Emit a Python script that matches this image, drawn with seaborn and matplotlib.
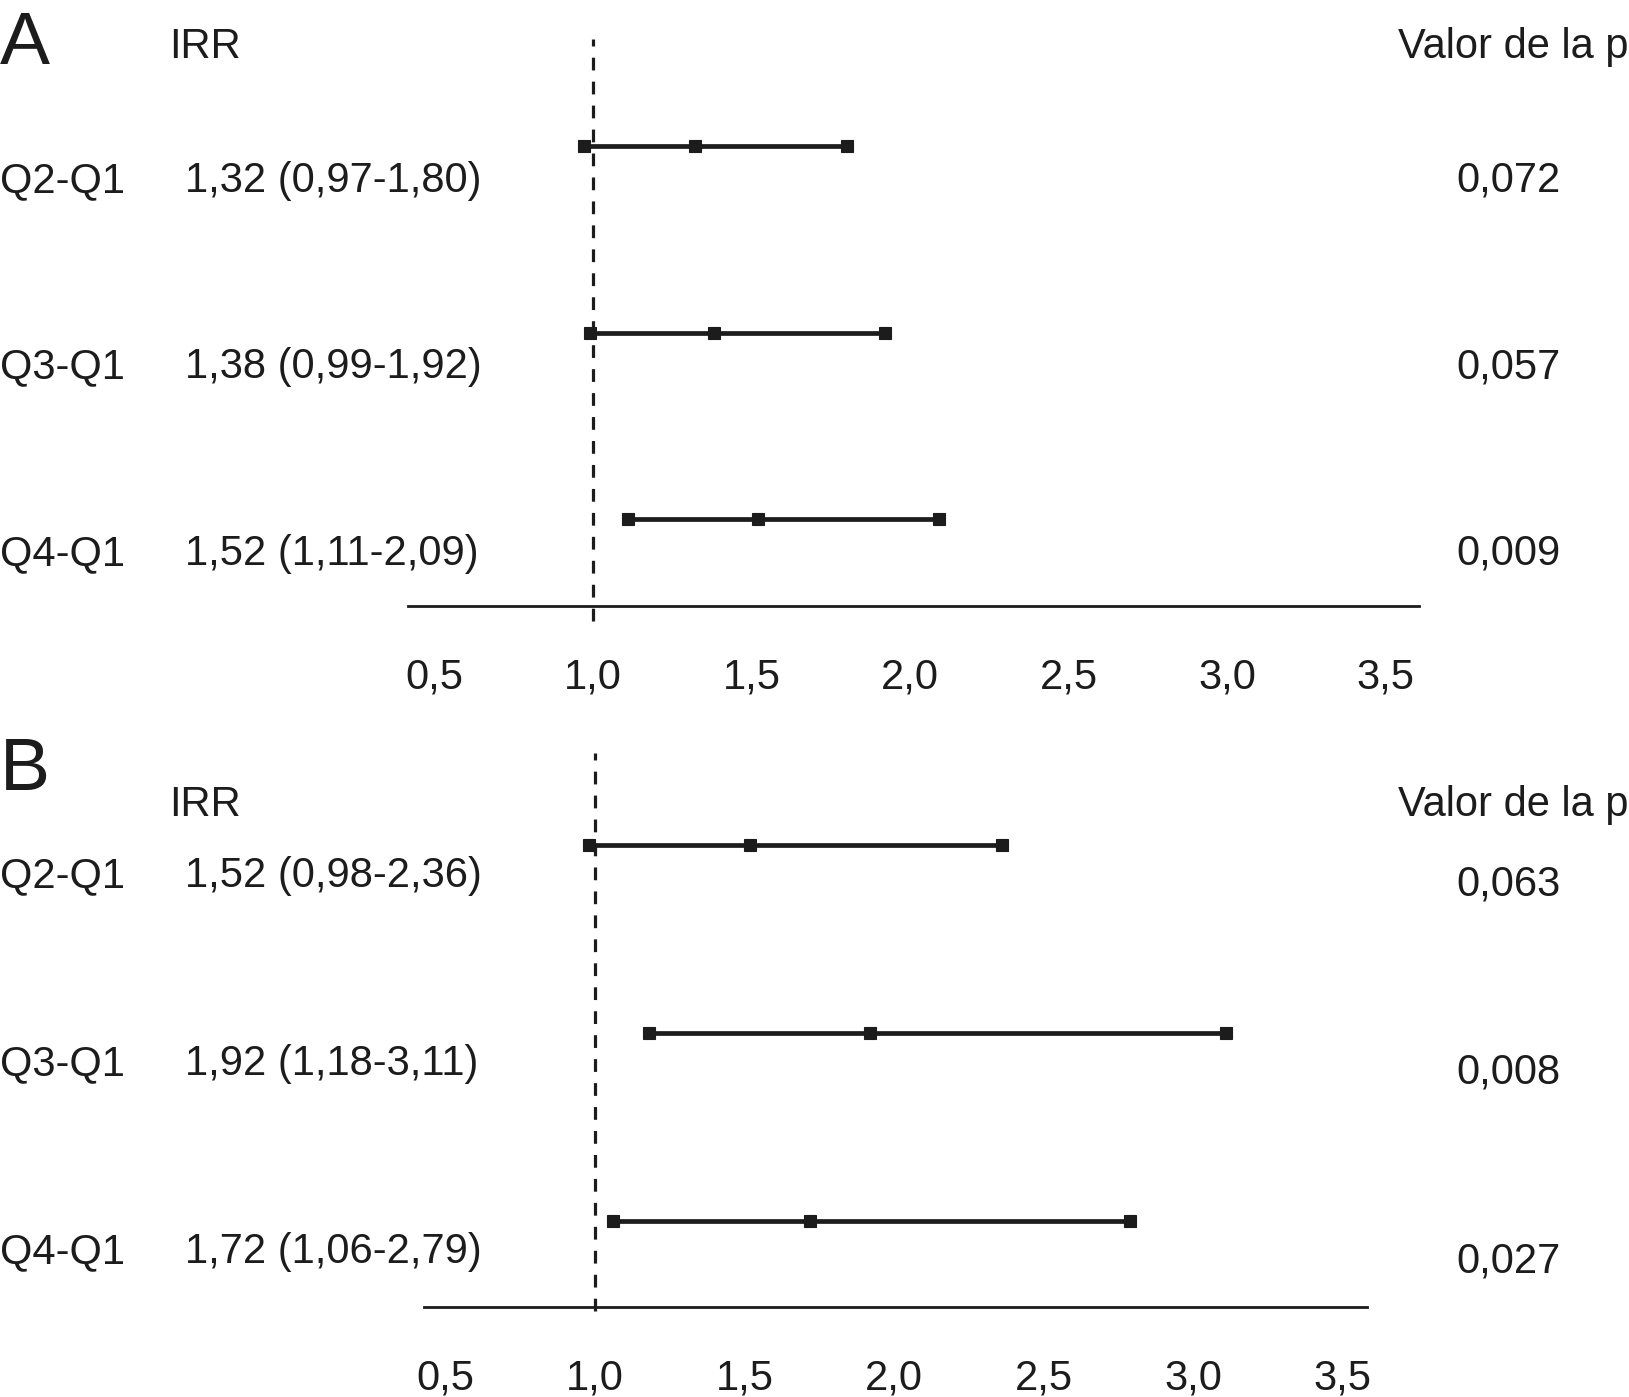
"""
Forest plot de IRR por cuartiles (paneles A y B) con seaborn.
"""

import numpy as np
import pandas as pd
import matplotlib
matplotlib.use("Agg")
import matplotlib.pyplot as plt
import matplotlib.transforms as mtransforms
import seaborn as sns


# Datos
comparisons = ["Q2-Q1", "Q3-Q1", "Q4-Q1"]

irr_a = [1.32, 1.38, 1.52]
low_a = [0.97, 0.99, 1.11]
high_a = [1.80, 1.92, 2.09]
p_a = ["0,072", "0,057", "0,009"]

irr_b = [1.52, 1.92, 1.72]
low_b = [0.98, 1.18, 1.06]
high_b = [2.36, 3.11, 2.79]
p_b = ["0,063", "0,008", "0,027"]

tick_values = [0.5, 1.0, 1.5, 2.0, 2.5, 3.0, 3.5]
tick_labels = ["0,5", "1,0", "1,5", "2,0", "2,5", "3,0", "3,5"]

# Estilo
W, H = 1629, 1397
INK = "#1c1c1c"
FS = 30

sns.set_theme(style="white")
plt.rcParams["font.family"] = ["Liberation Sans", "DejaVu Sans"]


def fx(px):
    return px / W


def fy(py):
    return 1 - py / H


def long_frame(irr, low, high):
    rows = []
    for i, name in enumerate(comparisons):
        for v in (low[i], irr[i], high[i]):
            rows.append({"comparison": name, "row": i, "value": v})
    return pd.DataFrame(rows)


def fmt_irr(irr, lo, hi):
    return f"{irr:.2f} ({lo:.2f}-{hi:.2f})".replace(".", ",")


def draw_panel(fig, rect, xlim, ylim, letter, letter_y, header_y,
               irr, low, high, pvals, label_off, p_off, dash_ymin):
    ax = fig.add_axes(rect)
    df = long_frame(irr, low, high)
    sns.lineplot(data=df, x="value", y="row", units="comparison",
                 estimator=None, color=INK, linewidth=3.4, marker="s",
                 markersize=8, markeredgecolor=INK, markeredgewidth=0.8,
                 legend=False, ax=ax)
    ax.axvline(1.0, ymin=dash_ymin, ymax=1, color=INK, lw=2.3,
               ls=(0, (4, 3.5)), clip_on=False)

    ax.set_xlim(*xlim)
    ax.set_ylim(*ylim)
    ax.set_yticks([])
    ax.set_xticks(tick_values)
    ax.set_xticklabels(tick_labels, fontsize=FS, color=INK)
    ax.tick_params(axis="x", length=0, pad=37)
    ax.set_xlabel("")
    ax.set_ylabel("")
    sns.despine(ax=ax, left=True, top=True, right=True)
    ax.spines["bottom"].set_linewidth(2)
    ax.spines["bottom"].set_color(INK)
    ax.patch.set_alpha(0)

    # Encabezados
    fig.text(0, fy(letter_y), letter, fontsize=54, color=INK,
             ha="left", va="baseline")
    fig.text(fx(169), fy(header_y), "IRR", fontsize=FS, color=INK,
             ha="left", va="baseline")
    fig.text(fx(1398), fy(header_y), "Valor de la p", fontsize=FS,
             color=INK, ha="left", va="baseline")

    # Texto por fila (x en figura, y en datos)
    trans = mtransforms.blended_transform_factory(fig.transFigure, ax.transData)
    for i, name in enumerate(comparisons):
        ax.text(0, i + label_off, name, transform=trans, fontsize=FS,
                color=INK, ha="left", va="baseline", clip_on=False)
        ax.text(fx(185), i + label_off, fmt_irr(irr[i], low[i], high[i]),
                transform=trans, fontsize=FS, color=INK, ha="left",
                va="baseline", clip_on=False)
        ax.text(fx(1561), i + p_off, pvals[i], transform=trans,
                fontsize=FS, color=INK, ha="right", va="baseline",
                clip_on=False)
    return ax


fig = plt.figure(figsize=(W / 100, H / 100), dpi=100)
fig.patch.set_facecolor("white")

# ── Panel A ──────────────────────────────────────────────
draw_panel(fig, [fx(408), fy(606), (1419 - 408) / W, (606 - 39) / H],
           xlim=(0.416, 3.606), ylim=(2.464, -0.576),
           letter="A", letter_y=64, header_y=58,
           irr=irr_a, low=low_a, high=high_a, pvals=p_a,
           label_off=0.244, p_off=0.244, dash_ymin=-0.026)

# ── Panel B ──────────────────────────────────────────────
draw_panel(fig, [fx(424), fy(1307), (1367 - 424) / W, (1307 - 753) / H],
           xlim=(0.428, 3.582), ylim=(2.457, -0.489),
           letter="B", letter_y=790, header_y=816,
           irr=irr_b, low=low_b, high=high_b, pvals=p_b,
           label_off=0.223, p_off=0.271, dash_ymin=-0.007)

fig.savefig("out.png", dpi=100)
plt.close(fig)
